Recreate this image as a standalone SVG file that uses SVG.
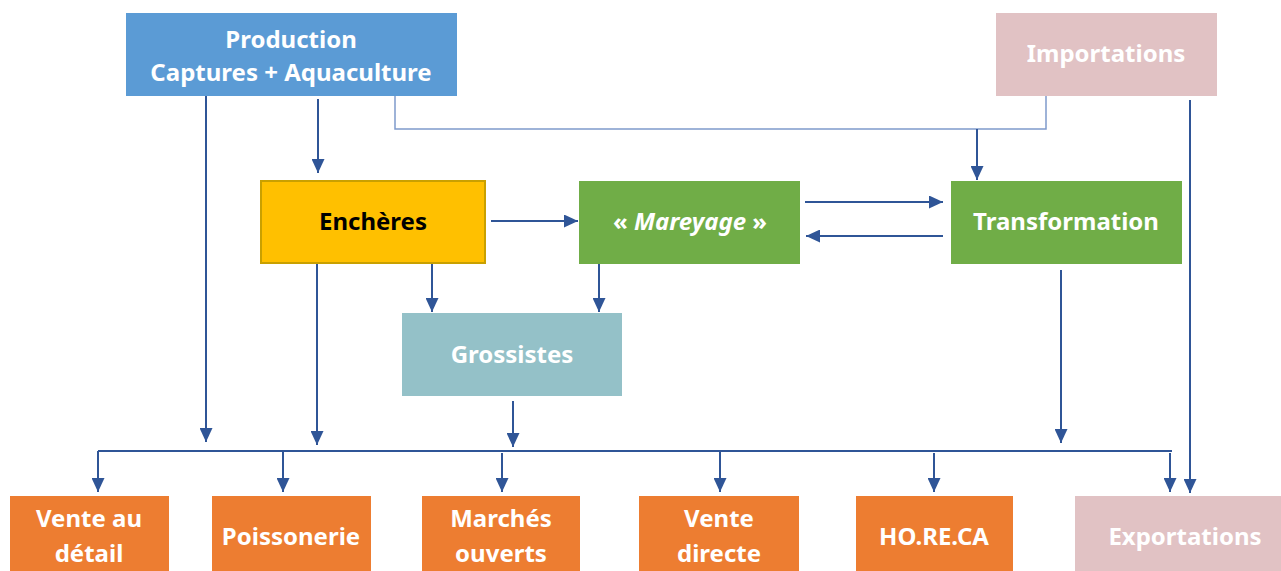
<svg xmlns="http://www.w3.org/2000/svg" width="1281" height="571" viewBox="0 0 1281 571">
<style>
text{font-family:"Noto Sans","Open Sans","Liberation Sans",sans-serif;font-weight:bold;font-size:24px;text-anchor:middle;fill:#fff}
.dark{fill:#000}
.ln{stroke:#2F5597;stroke-width:2;fill:none}
.lt{stroke:#7F9ACB;stroke-width:1.5;fill:none}
.arr{marker-end:url(#ah)}
</style>
<defs>
<marker id="ah" viewBox="0 0 14 13" markerWidth="14" markerHeight="13" refX="14" refY="6.5" orient="auto" markerUnits="userSpaceOnUse">
<path d="M0,0 L14,6.5 L0,13 z" fill="#2F5597"/>
</marker>
</defs>
<rect width="1281" height="571" fill="#fff"/>
<g id="connectors">
<path class="ln arr" d="M206,96 V442"/>
<path class="ln arr" d="M318,99 V173"/>
<path class="lt" d="M395,96 V129 H1046 V96"/>
<path class="ln arr" d="M977,129 V180"/>
<path class="ln arr" d="M1190,100 V493"/>
<path class="ln arr" d="M491,221 H578"/>
<path class="ln arr" d="M805,202 H943"/>
<path class="ln arr" d="M943,236 H806"/>
<path class="ln arr" d="M317,264 V445"/>
<path class="ln arr" d="M432,264 V312"/>
<path class="ln arr" d="M599,264 V312"/>
<path class="ln arr" d="M513,401 V447"/>
<path class="ln arr" d="M1061,270 V443"/>
<path class="ln" d="M98,451 H1172"/>
<path class="ln arr" d="M98,451 V492"/>
<path class="ln arr" d="M283,451 V492"/>
<path class="ln arr" d="M502,453 V492"/>
<path class="ln arr" d="M720,451 V492"/>
<path class="ln arr" d="M934,453 V492"/>
<path class="ln arr" d="M1170,453 V492"/>
</g>
<g id="production"><rect x="126" y="13" width="331" height="83" fill="#5B9BD5"/><text x="291" y="48">Production</text><text x="291" y="81">Captures + Aquaculture</text></g>
<g id="importations"><rect x="996" y="13" width="221" height="83" fill="#E1C2C4"/><text x="1106" y="62">Importations</text></g>
<g id="encheres"><rect x="261" y="181" width="224" height="82" fill="#FFC000" stroke="#C9A000" stroke-width="2"/><text class="dark" x="373" y="230">Enchères</text></g>
<g id="mareyage"><rect x="579" y="181" width="221" height="83" fill="#70AD47"/><text x="690" y="230">« <tspan font-style="italic">Mareyage</tspan> »</text></g>
<g id="transformation"><rect x="951" y="181" width="231" height="83" fill="#70AD47"/><text x="1066" y="230">Transformation</text></g>
<g id="grossistes"><rect x="402" y="313" width="220" height="83" fill="#94C1C8"/><text x="512" y="363">Grossistes</text></g>
<g id="vente-detail"><rect x="10" y="496" width="159" height="75" fill="#ED7D31"/><text x="89" y="527">Vente au</text><text x="89" y="562">détail</text></g>
<g id="poissonerie"><rect x="212" y="496" width="159" height="75" fill="#ED7D31"/><text x="291" y="545">Poissonerie</text></g>
<g id="marches"><rect x="422" y="496" width="158" height="75" fill="#ED7D31"/><text x="501" y="527">Marchés</text><text x="501" y="562">ouverts</text></g>
<g id="vente-directe"><rect x="639" y="496" width="160" height="75" fill="#ED7D31"/><text x="719" y="527">Vente</text><text x="719" y="562">directe</text></g>
<g id="horeca"><rect x="856" y="496" width="157" height="75" fill="#ED7D31"/><text x="934" y="545">HO.RE.CA</text></g>
<g id="exportations"><rect x="1075" y="496" width="206" height="75" fill="#E1C2C4"/><text x="1185" y="545">Exportations</text></g>
</svg>
